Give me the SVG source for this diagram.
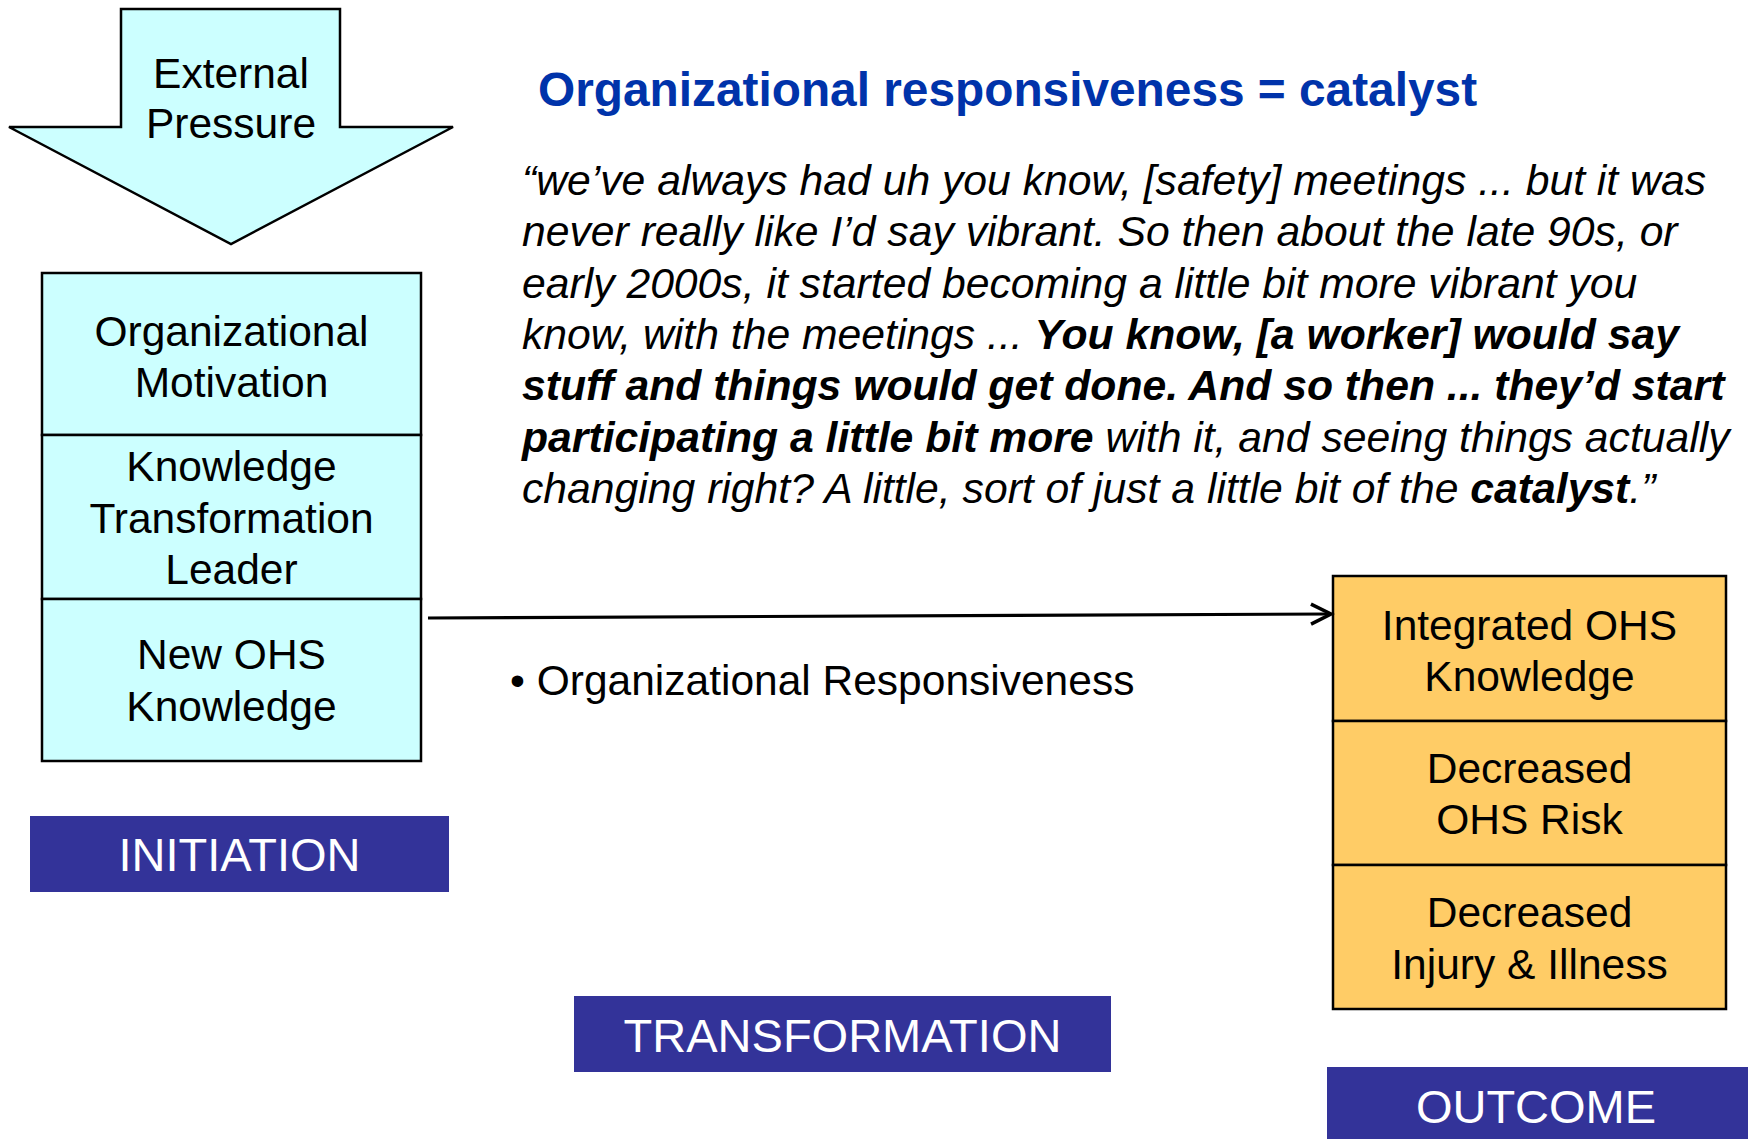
<svg xmlns="http://www.w3.org/2000/svg" width="1748" height="1139" viewBox="0 0 1748 1139">
<style>
text{font-family:"Liberation Sans",Arial,Helvetica,sans-serif;fill:#000}
.box{stroke:#000;stroke-width:2.5}
.cyan{fill:#CCFFFF}
.orange{fill:#FFCC66}
.t{font-size:42.5px;text-anchor:middle}
.banner{fill:#333399}
.bt{font-size:47px;fill:#fff;text-anchor:middle}
.q{font-size:42.7px;font-style:italic}
.b{font-weight:bold}
</style>
<defs>
<marker id="arr" markerUnits="userSpaceOnUse" markerWidth="26" markerHeight="26" refX="22" refY="12" orient="auto">
<path d="M2,2 L22,12 L2,22" fill="none" stroke="#000" stroke-width="3.5"/>
</marker>
</defs>
<rect width="1748" height="1139" fill="#fff"/>

<g id="external-pressure">
<polygon class="box cyan" points="121,9 340,9 340,127 453,127 231,244 9,127 121,127"/>
<text class="t" x="231" y="88">External</text>
<text class="t" x="231" y="138">Pressure</text>
</g>

<g id="initiation-stack">
<rect class="box cyan" x="42" y="273" width="379" height="162"/>
<rect class="box cyan" x="42" y="435" width="379" height="164"/>
<rect class="box cyan" x="42" y="599" width="379" height="162"/>
<text class="t" x="231.5" y="346">Organizational</text>
<text class="t" x="231.5" y="397">Motivation</text>
<text class="t" x="231.5" y="481">Knowledge</text>
<text class="t" x="231.5" y="533">Transformation</text>
<text class="t" x="231.5" y="584">Leader</text>
<text class="t" x="231.5" y="669">New OHS</text>
<text class="t" x="231.5" y="721">Knowledge</text>
</g>

<g id="outcome-stack">
<rect class="box orange" x="1333" y="576" width="393" height="145"/>
<rect class="box orange" x="1333" y="721" width="393" height="144"/>
<rect class="box orange" x="1333" y="865" width="393" height="144"/>
<text class="t" x="1529.5" y="640">Integrated OHS</text>
<text class="t" x="1529.5" y="691">Knowledge</text>
<text class="t" x="1529.5" y="783">Decreased</text>
<text class="t" x="1529.5" y="834">OHS Risk</text>
<text class="t" x="1529.5" y="927">Decreased</text>
<text class="t" x="1529.5" y="979">Injury &amp; Illness</text>
</g>

<g id="connectors">
<line x1="428" y1="618" x2="1331" y2="614" stroke="#000" stroke-width="3.2" marker-end="url(#arr)"/>
</g>

<g id="transformation-label">
<text x="510" y="695" style="font-size:42.5px">• Organizational Responsiveness</text>
</g>

<g id="title">
<text x="538" y="106" class="b" style="font-size:47.8px;fill:#0033AA">Organizational responsiveness = catalyst</text>
</g>

<g id="quote">
<text class="q" x="522" y="195">“we’ve always had uh you know, [safety] meetings ... but it was</text>
<text class="q" x="522" y="246">never really like I’d say vibrant. So then about the late 90s, or</text>
<text class="q" x="522" y="298">early 2000s, it started becoming a little bit more vibrant you</text>
<text class="q" x="522" y="349">know, with the meetings ... <tspan class="b">You know, [a worker] would say</tspan></text>
<text class="q b" x="522" y="400">stuff and things would get done. And so then ... they’d start</text>
<text class="q" x="522" y="452"><tspan class="b">participating a little bit more</tspan> with it, and seeing things actually</text>
<text class="q" x="522" y="503">changing right? A little, sort of just a little bit of the <tspan class="b">catalyst</tspan>.”</text>
</g>

<g id="initiation">
<rect class="banner" x="30" y="816" width="419" height="76"/>
<text class="bt" x="239.5" y="871">INITIATION</text>
</g>
<g id="transformation">
<rect class="banner" x="574" y="996" width="537" height="76"/>
<text class="bt" x="842.5" y="1052">TRANSFORMATION</text>
</g>
<g id="outcome">
<rect class="banner" x="1327" y="1067" width="421" height="72"/>
<text class="bt" x="1536" y="1123">OUTCOME</text>
</g>
</svg>
